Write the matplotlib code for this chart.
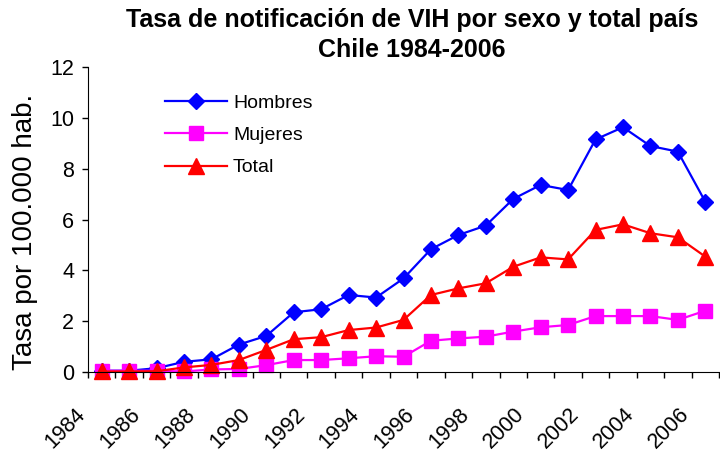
import numpy as np
import matplotlib.pyplot as plt
from matplotlib.transforms import ScaledTranslation

# Tasa de notificación VIH por 100.000 hab., Chile 1984-2006
years = list(range(1984, 2007))
hombres = [0.05, 0.05, 0.15, 0.40, 0.50, 1.08, 1.42, 2.35, 2.47, 3.03, 2.93, 3.68,
           4.83, 5.39, 5.76, 6.81, 7.36, 7.16, 9.15, 9.63, 8.89, 8.67, 6.70]
mujeres = [0.05, 0.05, 0.05, 0.02, 0.10, 0.12, 0.27, 0.47, 0.47, 0.54, 0.62, 0.60,
           1.23, 1.32, 1.39, 1.59, 1.76, 1.85, 2.20, 2.20, 2.20, 2.05, 2.41]
total = [0.02, 0.02, 0.03, 0.18, 0.28, 0.47, 0.87, 1.29, 1.37, 1.65, 1.75, 2.05,
         3.03, 3.29, 3.49, 4.14, 4.51, 4.43, 5.59, 5.81, 5.46, 5.30, 4.54]

plt.rcParams['font.family'] = ['Liberation Sans', 'DejaVu Sans']

fig = plt.figure(figsize=(7.2, 4.55), dpi=100)
ax = fig.add_axes([88 / 720, 83 / 455, 631 / 720, 305 / 455])

x = np.arange(len(years))
ax.plot(x, hombres, color='#0000FF', marker='D', ms=8.5, lw=1.6, label='Hombres', clip_on=False)
ax.plot(x, mujeres, color='#FF00FF', marker='s', ms=9.5, lw=1.6, label='Mujeres', clip_on=False)
ax.plot(x, total, color='#FF0000', marker='^', ms=11, lw=1.6, label='Total', clip_on=False)

ax.set_xlim(-0.5, len(years) - 0.5)
ax.set_ylim(0, 12)
ax.set_yticks(range(0, 13, 2))
ax.tick_params(axis='y', labelsize=15.5, length=4, width=1, pad=6)

# labels every other year, tick marks between categories
ax.set_xticks(x[::2])
ax.set_xticklabels([str(y) for y in years[::2]], rotation=45, ha='right', va='top')
ax.set_xticks(np.arange(-0.5, len(years), 1), minor=True)
ax.tick_params(axis='x', which='major', length=0, labelsize=15.5, pad=23)
ax.tick_params(axis='x', which='minor', length=4, width=1)
shift = ScaledTranslation(-12 / 100, 0, fig.dpi_scale_trans)
for lbl in ax.get_xticklabels():
    lbl.set_transform(lbl.get_transform() + shift)

for side in ['top', 'right']:
    ax.spines[side].set_visible(False)

ax.set_ylabel('Tasa por 100.000 hab.', fontsize=20)
ax.yaxis.set_label_coords(-0.08, 0.46)

fig.text(412 / 720, 1 - 8 / 455, 'Tasa de notificación de VIH por sexo y total país\nChile 1984-2006',
         ha='center', va='top', fontsize=18, fontweight='bold', linespacing=1.3)

ax.legend(loc='upper left', bbox_to_anchor=(165 / 720, 1 - 94 / 455), bbox_transform=fig.transFigure,
          frameon=False, fontsize=14, handlelength=3.2, handletextpad=0.3, labelspacing=0.76,
          borderpad=0, borderaxespad=0)

fig.savefig('out.png', dpi=100)
